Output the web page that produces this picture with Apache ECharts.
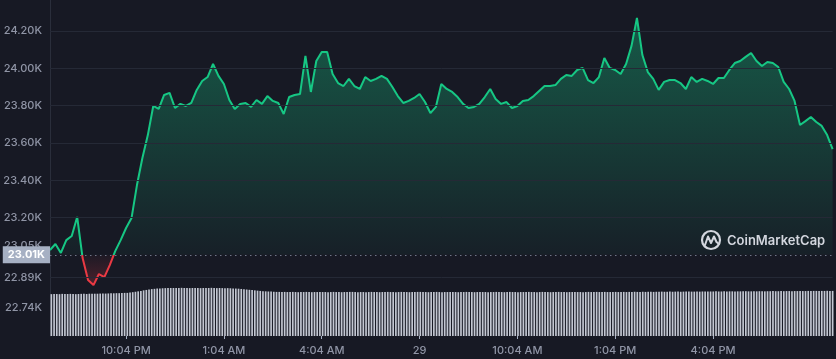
<!DOCTYPE html>
<html><head><meta charset="utf-8">
<script src="https://cdn.jsdelivr.net/npm/echarts@6/dist/echarts.min.js"></script>
<style>html,body{margin:0;padding:0;background:#171924;}#c{width:836px;height:359px;}</style>
</head><body><div id="c"></div>
<script>
// ---- data ----
const openPrice = 23.00;
const openLabel = '23.01K';
const prices = [
23.026,23.058,23.010,23.079,23.101,23.203,22.983,22.865,22.838,22.897,
22.881,22.945,23.020,23.079,23.144,23.197,23.374,23.519,23.642,23.798,
23.782,23.857,23.868,23.787,23.809,23.798,23.814,23.884,23.932,23.953,
24.023,23.959,23.916,23.830,23.782,23.809,23.814,23.793,23.830,23.809,
23.851,23.825,23.814,23.755,23.846,23.857,23.862,24.066,23.873,24.039,
24.087,24.087,23.969,23.921,23.905,23.943,23.905,23.889,23.953,23.932,
23.943,23.959,23.943,23.900,23.851,23.814,23.825,23.841,23.862,23.819,
23.760,23.793,23.916,23.889,23.873,23.846,23.809,23.787,23.793,23.809,
23.846,23.889,23.835,23.809,23.819,23.787,23.798,23.825,23.830,23.851,
23.878,23.905,23.905,23.910,23.943,23.964,23.959,23.991,24.002,23.937,
23.921,23.953,24.055,24.002,23.991,23.969,24.023,24.120,24.270,24.071,
23.980,23.943,23.884,23.927,23.937,23.937,23.921,23.889,23.953,23.927,
23.943,23.932,23.916,23.948,23.948,23.991,24.028,24.039,24.061,24.082,
24.039,24.012,24.034,24.028,24.007,23.927,23.889,23.825,23.696,23.717,
23.739,23.712,23.691,23.642,23.567
];
const volumes = [
29.9,30.0,30.0,29.9,30.1,30.0,30.0,30.1,30.0,29.9,30.0,30.1,30.1,30.0,30.2,30.1,30.2,
30.2,30.3,30.4,30.3,30.4,30.5,30.5,30.6,30.6,30.7,30.8,30.8,31.0,31.3,31.6,31.9,32.2,
32.6,32.9,33.2,33.5,33.7,33.9,34.0,34.1,34.2,34.2,34.3,34.3,34.2,34.3,34.4,34.3,34.3,
34.2,34.3,34.3,34.2,34.2,34.3,34.2,34.3,34.4,34.3,34.2,34.3,34.2,34.1,34.2,34.1,34.0,
33.9,33.8,33.6,33.4,33.2,33.0,32.8,32.6,32.4,32.2,32.0,31.9,31.8,31.7,31.6,31.5,31.5,
31.4,31.5,31.4,31.4,31.5,31.4,31.3,31.4,31.4,31.5,31.4,31.3,31.4,31.4,31.5,31.4,31.4,
31.3,31.4,31.5,31.4,31.4,31.3,31.4,31.4,31.5,31.5,31.4,31.3,31.4,31.4,31.3,31.4,31.5,
31.4,31.4,31.3,31.4,31.4,31.5,31.4,31.4,31.3,31.4,31.5,31.4,31.4,31.3,31.4,31.4,31.5,
31.5,31.4,31.4,31.3,31.4,31.4,31.5,31.4,31.3,31.4,31.4,31.4,31.5,31.4,31.3,31.4,31.4,
31.5,31.4,31.4,31.3,31.4,31.5,31.4,31.4,31.3,31.4,31.4,31.5,31.4,31.4,31.3,31.4,31.5,
31.4,31.4,31.3,31.4,31.4,31.5,31.5,31.4,31.4,31.3,31.4,31.5,31.4,31.4,31.3,31.4,31.4,
31.5,31.4,31.4,31.3,31.4,31.4,31.5,31.4,31.4,31.3,31.4,31.5,31.4,31.4,31.5,31.4,31.4,
31.5,31.4,31.4,31.5,31.5,31.4,31.5,31.5,31.4,31.5,31.5,31.6,31.5,31.5,31.6,31.5,31.6,
31.6,31.5,31.6,31.6,31.7,31.6,31.6,31.7,31.6,31.7,31.7,31.6,31.7,31.7,31.8,31.7,31.7,
31.8,31.7,31.8,31.8,31.7,31.8,31.8,31.9,31.8,31.8,31.9,31.8,31.9,31.9,31.8,31.9,31.9,
31.9,32.0,31.9,31.9,32.0,31.9,32.0,32.0,31.9,32.0,32.0,32.1,32.0,32.0,32.1,32.0,32.1,
32.1,32.0,32.1,32.1,32.2,32.1,32.1,32.2,32.1,32.2,32.2,32.1,32.2,32.2,32.3,32.2,32.2
];
const yTickValues = [22.715, 22.877, 23.047, 23.2, 23.4, 23.6, 23.8, 24.0, 24.2];
const yTickLabels = ['22.74K','22.89K','23.05K','23.20K','23.40K','23.60K','23.80K','24.00K','24.20K'];
const gridValues = [22.877, 23.2, 23.4, 23.6, 23.8, 24.0, 24.2];
const timeTicks = ['10:04 PM','1:04 AM','4:04 AM','7:04 AM','10:04 AM','1:04 PM','4:04 PM'];
const timeTickLabels = ['10:04 PM','1:04 AM','4:04 AM','29','10:04 AM','1:04 PM','4:04 PM'];
const startMinute = 19 * 60 + 44; // 7:44 PM, 10-minute steps

// ---- categories ----
function fmt(m) {
  m = ((m % 1440) + 1440) % 1440;
  let h = Math.floor(m / 60), mi = m % 60;
  const ap = h >= 12 ? 'PM' : 'AM';
  h = h % 12; if (h === 0) h = 12;
  return h + ':' + (mi < 10 ? '0' : '') + mi + ' ' + ap;
}
const times = prices.map((_, i) => fmt(startMinute + 10 * i));
const volCats = volumes.map((_, i) => 'v' + i);

const el = document.getElementById('c');
const chart = echarts.init(el, null, { renderer: 'canvas' });
const GREEN = '#16c784', RED = '#ea3943';
const showTick = (idx, val) => timeTicks.indexOf(val) >= 0;

const Y_MIN = 22.565, Y_MAX = 24.366, GRID_TOP = 0, GRID_H = 336;
// pixel row of the open price inside the price grid (used for the colour split)
const splitY = GRID_TOP + (Y_MAX - openPrice) / (Y_MAX - Y_MIN) * GRID_H;
const GH = 300;
const s = splitY / GH;

chart.setOption({
  backgroundColor: '#171924',
  animation: false,
  textStyle: { fontFamily: 'Inter, Roboto, sans-serif' },
  grid: [
    { left: 50, right: 3.4, top: GRID_TOP, height: GRID_H },
    { left: 50, right: 2, top: 280, bottom: 23 }
  ],
  xAxis: [
    {
      type: 'category', gridIndex: 0, data: times, boundaryGap: false,
      axisLine: { show: false },
      axisTick: { show: true, interval: showTick, length: 3, lineStyle: { color: '#a6b0c3' } },
      axisLabel: {
        interval: showTick, color: '#9095a6', fontSize: 11, fontWeight: 500, margin: 9,
        formatter: (v) => { const k = timeTicks.indexOf(v); return k >= 0 ? timeTickLabels[k] : ''; }
      },
      splitLine: { show: false }
    },
    {
      type: 'category', gridIndex: 1, data: volCats, boundaryGap: true, show: false
    }
  ],
  yAxis: [
    {
      type: 'value', gridIndex: 0, min: Y_MIN, max: Y_MAX,
      axisLine: { show: true, lineStyle: { color: '#2a2e3b' } },
      axisTick: { show: false },
      splitLine: { show: false },
      axisLabel: {
        customValues: yTickValues, color: '#9095a6', fontSize: 11, fontWeight: 500, margin: 8,
        formatter: (v) => {
          let best = 0;
          for (let i = 1; i < yTickValues.length; i++)
            if (Math.abs(yTickValues[i] - v) < Math.abs(yTickValues[best] - v)) best = i;
          return yTickLabels[best];
        }
      }
    },
    { type: 'value', gridIndex: 1, min: 0, max: 40, show: false }
  ],
  series: [
    {
      type: 'line', xAxisIndex: 0, yAxisIndex: 0, data: prices,
      symbol: 'none', smooth: false, z: 3,
      lineStyle: {
        width: 2,
        color: {
          type: 'linear', x: 0, y: 0, x2: 0, y2: GH, global: true,
          colorStops: [
            { offset: 0, color: GREEN }, { offset: s, color: GREEN },
            { offset: s, color: RED }, { offset: 1, color: RED }
          ]
        }
      },
      areaStyle: {
        origin: openPrice,
        opacity: 1,
        color: {
          type: 'linear', x: 0, y: 0, x2: 0, y2: GH, global: true,
          colorStops: [
            { offset: 0, color: 'rgba(22,199,132,0.40)' },
            { offset: s - 0.002, color: 'rgba(22,199,132,0.04)' },
            { offset: s + 0.002, color: 'rgba(234,57,67,0.04)' },
            { offset: 1, color: 'rgba(234,57,67,0.35)' }
          ]
        }
      },
      markLine: {
        silent: true, symbol: ['none', 'none'], animation: false,
        data: gridValues.map(v => ({
          yAxis: v, lineStyle: { color: '#252936', width: 1, type: 'solid' }, label: { show: false }
        })).concat([{
          yAxis: openPrice,
          lineStyle: { color: '#6f7587', width: 1.2, type: [1.5, 3.5] },
          label: {
            show: true, position: 'start', distance: 0, formatter: openLabel,
            backgroundColor: '#a6b0c3', color: '#ffffff', fontWeight: 'bold', fontSize: 11,
            padding: [3, 5, 3, 5], borderRadius: 0
          }
        }])
      }
    },
    {
      type: 'bar', xAxisIndex: 1, yAxisIndex: 1, data: volumes,
      barCategoryGap: '38%', itemStyle: { color: '#c3c7d2' }, z: 2, silent: true
    }
  ],
  graphic: [
    { type: 'circle', shape: { cx: 711, cy: 240, r: 9 }, style: { fill: 'none', stroke: '#d3d6de', lineWidth: 2.2 }, z: 10 },
    { type: 'polyline', shape: { points: [[705, 245], [708, 236.5], [711, 243], [714, 236.5], [716.5, 242], [719, 244]] },
      style: { fill: 'none', stroke: '#d3d6de', lineWidth: 2, lineJoin: 'round', lineCap: 'round' }, z: 10 },
    { type: 'text', x: 727, y: 241, style: { text: 'CoinMarketCap', fill: '#d3d6de', font: '600 13px Inter, sans-serif', textVerticalAlign: 'middle' }, z: 10 }
  ]
});
</script></body></html>
